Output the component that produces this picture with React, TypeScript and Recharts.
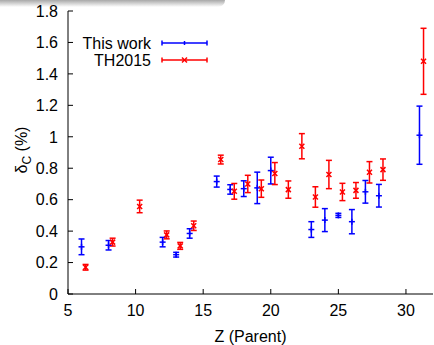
import React from 'react';
import { ScatterChart, Scatter, XAxis, YAxis, ErrorBar } from 'recharts';

// delta_C (%) vs parent Z
const thisWorkZ = [6, 8, 12, 13, 14, 16, 17, 18, 19, 20, 23, 24, 25, 26, 27, 28, 31];
const thisWorkDelta = [0.30, 0.31, 0.33, 0.25, 0.385, 0.715, 0.665, 0.67, 0.675, 0.785, 0.41, 0.47, 0.50, 0.46, 0.65, 0.625, 1.01];
const thisWorkErr = [0.05, 0.03, 0.03, 0.015, 0.03, 0.035, 0.03, 0.05, 0.10, 0.085, 0.05, 0.073, 0.013, 0.077, 0.072, 0.072, 0.185];

const th2015Z = [6, 8, 10, 12, 13, 14, 16, 17, 18, 19, 20, 21, 22, 23, 24, 25, 26, 27, 28, 31];
const th2015Delta = [0.17, 0.33, 0.557, 0.376, 0.306, 0.434, 0.855, 0.653, 0.70, 0.67, 0.766, 0.664, 0.94, 0.617, 0.76, 0.649, 0.659, 0.774, 0.791, 1.48];
const th2015Err = [0.018, 0.025, 0.04, 0.025, 0.022, 0.03, 0.028, 0.05, 0.055, 0.055, 0.07, 0.055, 0.08, 0.065, 0.09, 0.055, 0.05, 0.068, 0.068, 0.21];

// TH2015 points are nudged right so the bars don't sit on top of each other
const TH_SHIFT = 0.3;

const xTicks = [5, 10, 15, 20, 25, 30];
const yTicks = [0, 0.2, 0.4, 0.6, 0.8, 1, 1.2, 1.4, 1.6, 1.8];

const BLUE = '#0000ff';
const RED = '#ff0000';
const FONT = '"Liberation Sans", Arial, sans-serif';
const FONT_SIZE = 16;
const TICK_LEN = 5;
const Y_GAP = 10;
const X_GAP = 11;

const thisWorkData = thisWorkZ.map((z, i) => ({ z, d: thisWorkDelta[i], err: thisWorkErr[i] }));
const th2015Data = th2015Z.map((z, i) => ({ z: z + TH_SHIFT, d: th2015Delta[i], err: th2015Err[i] }));

const fmt = (v: number) => String(Math.round(v * 10) / 10);

const LeftTick = (props: any) => {
  const { x, y, payload } = props;
  const ax = x + Y_GAP;
  return (
    <g>
      <line x1={ax} x2={ax + TICK_LEN} y1={y} y2={y} stroke="#000" />
      <text x={x} y={y} dy="0.36em" textAnchor="end" fontFamily={FONT} fontSize={FONT_SIZE} fill="#000">
        {fmt(payload.value)}
      </text>
    </g>
  );
};

const BottomTick = (props: any) => {
  const { x, y, payload } = props;
  const ay = y - X_GAP;
  return (
    <g>
      <line x1={x} x2={x} y1={ay} y2={ay - TICK_LEN} stroke="#000" />
      <text x={x} y={y} dy="0.71em" textAnchor="middle" fontFamily={FONT} fontSize={FONT_SIZE} fill="#000">
        {payload.value}
      </text>
    </g>
  );
};

const TopTick = (props: any) => (
  <line x1={props.x} x2={props.x} y1={props.y} y2={props.y + TICK_LEN} stroke="#000" />
);

const RightTick = (props: any) => (
  <line x1={props.x - TICK_LEN} x2={props.x} y1={props.y} y2={props.y} stroke="#000" />
);

const PlusMark = (p: any) => (
  <g stroke={BLUE} strokeWidth={1.5}>
    <line x1={p.cx - 3} x2={p.cx + 3} y1={p.cy} y2={p.cy} />
    <line x1={p.cx} x2={p.cx} y1={p.cy - 3} y2={p.cy + 3} />
  </g>
);

const CrossMark = (p: any) => (
  <g stroke={RED} strokeWidth={1.5}>
    <line x1={p.cx - 2.5} x2={p.cx + 2.5} y1={p.cy - 2.5} y2={p.cy + 2.5} />
    <line x1={p.cx - 2.5} x2={p.cx + 2.5} y1={p.cy + 2.5} y2={p.cy - 2.5} />
  </g>
);

const LegendRow = ({ y, label, color, mark }: { y: number; label: string; color: string; mark: 'plus' | 'cross' }) => (
  <g>
    <text x={151} y={y} dy="0.36em" textAnchor="end" fontFamily={FONT} fontSize={FONT_SIZE} fill="#000">
      {label}
    </text>
    <g stroke={color} strokeWidth={1.5}>
      <line x1={162} x2={207} y1={y} y2={y} />
      <line x1={162} x2={162} y1={y - 2.5} y2={y + 2.5} />
      <line x1={207} x2={207} y1={y - 2.5} y2={y + 2.5} />
      {mark === 'plus' ? (
        <line x1={184.5} x2={184.5} y1={y - 2} y2={y + 2} />
      ) : (
        <>
          <line x1={182} x2={187} y1={y - 2.5} y2={y + 2.5} />
          <line x1={182} x2={187} y1={y + 2.5} y2={y - 2.5} />
        </>
      )}
    </g>
  </g>
);

export default function App() {
  return (
    <div style={{ position: 'absolute', left: 0, top: 0, width: 434, height: 345, background: '#fff' }}>
      <div
        style={{
          position: 'absolute', left: 0, top: 0, width: 225, height: 7,
          background: 'linear-gradient(to bottom, #a8a8a8, rgba(255,255,255,0))',
          borderBottomRightRadius: 8,
        }}
      />
      <ScatterChart width={434} height={345} margin={{ top: 11, right: 1, bottom: 0, left: 0 }}>
        <XAxis
          dataKey="z" type="number" domain={[5, 32]} ticks={xTicks} allowDataOverflow
          height={51} tickSize={0} tickMargin={X_GAP} tick={<BottomTick />}
          axisLine={{ stroke: '#000', strokeWidth: 1 }}
          label={{ value: 'Z (Parent)', position: 'insideBottom', offset: 3, fill: '#000', fontSize: FONT_SIZE, fontFamily: FONT }}
        />
        <XAxis
          xAxisId="top" orientation="top" type="number" domain={[5, 32]} ticks={xTicks} allowDataOverflow
          height={0} tickSize={0} tickMargin={0} tick={<TopTick />}
          axisLine={{ stroke: '#000', strokeWidth: 1 }}
        />
        <YAxis
          dataKey="d" type="number" domain={[0, 1.8]} ticks={yTicks} allowDataOverflow
          width={68} tickSize={0} tickMargin={Y_GAP} tick={<LeftTick />}
          axisLine={{ stroke: '#000', strokeWidth: 1 }}
        />
        <YAxis
          yAxisId="right" orientation="right" type="number" domain={[0, 1.8]} ticks={yTicks} allowDataOverflow
          width={0} tickSize={0} tickMargin={0} tick={<RightTick />}
          axisLine={{ stroke: '#000', strokeWidth: 1 }}
        />
        <Scatter data={thisWorkData} fill={BLUE} shape={(p: any) => <PlusMark cx={p.cx} cy={p.cy} />} isAnimationActive={false}>
          <ErrorBar dataKey="err" direction="y" width={3} stroke={BLUE} strokeWidth={1.5} isAnimationActive={false} />
        </Scatter>
        <Scatter data={th2015Data} fill={RED} shape={(p: any) => <CrossMark cx={p.cx} cy={p.cy} />} isAnimationActive={false}>
          <ErrorBar dataKey="err" direction="y" width={3} stroke={RED} strokeWidth={1.5} isAnimationActive={false} />
        </Scatter>
      </ScatterChart>
      <svg width={434} height={345} style={{ position: 'absolute', left: 0, top: 0, pointerEvents: 'none' }}>
        <text transform="translate(27,150) rotate(-90)" textAnchor="middle" fontFamily={FONT} fontSize={FONT_SIZE} fill="#000">
          δ<tspan dy={4} fontSize={12}>C</tspan>
          <tspan dy={-4}> (%)</tspan>
        </text>
        <LegendRow y={43} label="This work" color={BLUE} mark="plus" />
        <LegendRow y={60} label="TH2015" color={RED} mark="cross" />
      </svg>
    </div>
  );
}
